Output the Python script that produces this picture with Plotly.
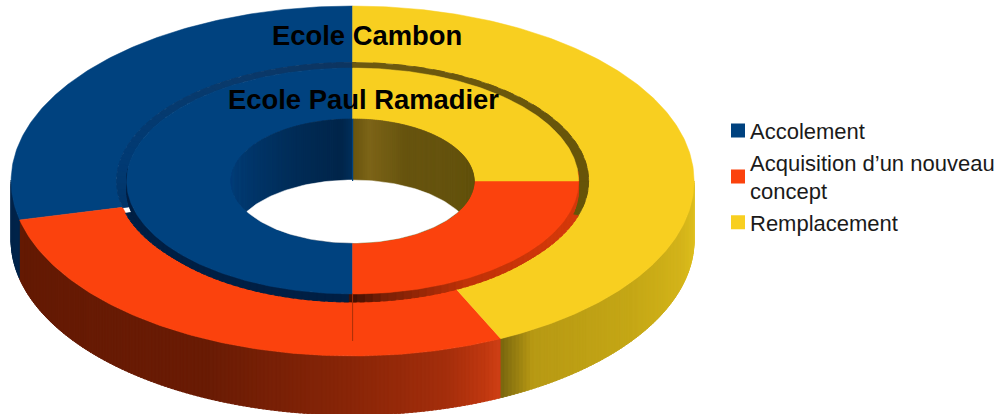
import numpy as np
import plotly.graph_objects as go

categories = ["Accolement", "Acquisition d’un nouveau<br>concept", "Remplacement"]
cambon_values = [2, 2, 3]
ramadier_values = [2, 1, 1]
colors = ["#00427f", "#fb420d", "#f8cf20"]
ring_titles = ["Ecole Cambon", "Ecole Paul Ramadier"]

CX, CY = 352.6, 181
OUT = (341.5, 175)
OUT_IN = (236, 118.5)
INN = (226, 113)
HOLE = (121.5, 62)
DEPTH = 59
INNER_DROP = 8


def hex2rgb(h):
    return np.array([int(h[i:i + 2], 16) for i in (1, 3, 5)], float)


def ramp(t, stops):
    ts = [s[0] for s in stops]
    cols = np.array([hex2rgb(s[1]) for s in stops])
    v = [np.interp(t, ts, cols[:, i]) for i in range(3)]
    return "rgb(%d,%d,%d)" % tuple(v)


def pt(r, t, dy=0.0):
    a = np.radians(t)
    return CX + r[0] * np.sin(a), CY - r[1] * np.cos(a) + dy


def arc(r, t0, t1, dy=0.0, n=None):
    n = n or max(6, int(abs(t1 - t0) * 1.5))
    return pt(r, np.linspace(t0, t1, n), dy)


fig = go.Figure()


def poly(x, y, color, width=0.8):
    x = list(x) + [x[0]]
    y = list(y) + [y[0]]
    fig.add_trace(go.Scatter(x=x, y=y, mode="lines", fill="toself", fillcolor=color,
                             line=dict(color=color, width=width),
                             showlegend=False, hoverinfo="skip"))


def band(r0, r1, t0, t1, c, dy0=0.0, dy1=0.0, width=0.5):
    x0, y0 = arc(r0, t0, t1, dy0)
    x1, y1 = arc(r1, t1, t0, dy1)
    poly(np.r_[x0, x1], np.r_[y0, y1], c, width)


def gradient_band(r0, r1, t0, t1, stops, dy0=0.0, dy1=0.0, step=2.0):
    ts = np.arange(t0, t1 + step * 0.5, step)
    for a, b in zip(ts[:-1], ts[1:]):
        band(r0, r1, a, b + step * 0.6, ramp((a + b) / 2, stops), dy0, dy1, 0.8)


def sector_angles(values):
    # clockwise from 12 o'clock: last category first
    total = sum(values)
    out = {}
    start = 0.0
    for i in reversed(range(len(values))):
        end = start + 360.0 * values[i] / total
        out[i] = (start, end)
        start = end
    return out


sec_out = sector_angles(cambon_values)
sec_in = sector_angles(ramadier_values)
ry_t, rr_t = sec_out[2][1], sec_out[1][1]

# Outer wall, front half
outer_wall = [(90, "#e2c322"), (102, "#d8b81c"), (125, "#c6a816"), (ry_t - 6, "#b89a14"),
              (ry_t - 1.5, "#8a7410"), (ry_t, "#7a660e"), (ry_t + 0.1, "#d04016"),
              (ry_t + 3, "#c03810"), (ry_t + 10, "#a42e0c"), (180, "#8a2608"), (205, "#6a1c05"),
              (rr_t, "#641a04"), (rr_t + 0.1, "#00244a"), (270, "#00244a")]
gradient_band(OUT, OUT, 90, 270, outer_wall, 0, DEPTH, 0.7)

# Outer ring face
for i in (0, 1, 2):
    band(OUT, OUT_IN, sec_out[i][0], sec_out[i][1], colors[i])

# Far wall of the outer ring's opening
far_left = [(-103, "#013468"), (-80, "#013b74"), (-30, "#0a3a6c"), (0, "#0d3560")]
gradient_band(OUT_IN, INN, -103, 0, far_left, step=3)
gradient_band(OUT_IN, INN, 0, 103, [(0, "#6e5a10"), (103, "#665408")], step=5)

# Inner ring's front wall
inner_wall = [(85, "#d83a0c"), (120, "#d2380a"), (150, "#c03208"), (172, "#7a2006"),
              (180, "#441003"), (180.1, "#001f44"), (275, "#001f44")]
gradient_band(OUT_IN, INN, 107, 253, inner_wall, step=2)
gradient_band(INN, INN, 85, 275, inner_wall, 0, INNER_DROP, 2)

# Inner ring face
for i in (0, 1, 2):
    band(INN, HOLE, sec_in[i][0], sec_in[i][1], colors[i])

# Hole wall
hole_stops = [(-90, "#013f7c"), (-60, "#01396e"), (-25, "#012c56"), (-5, "#01264b"), (-0.1, "#01305c"),
              (0, "#6a5510"), (8, "#7d6518"), (25, "#685510"), (90, "#62520c")]
ts = np.arange(-90, 90, 1.0)
for a in ts:
    xa, ya = pt(HOLE, a)
    xb, yb = pt(HOLE, min(a + 1.8, 90))
    poly([xa, xb, xb, xa], [ya, yb, 2 * CY - yb, 2 * CY - ya], ramp(a + 0.5, hole_stops), 0.4)

# See-through lens of the hole
DROP = 61
t_cross = np.degrees(np.arccos(DROP / (2 * HOLE[1])))
xu, yu = arc(HOLE, -t_cross, t_cross, DROP, 80)
xl, yl = arc(HOLE, 180 - t_cross, 180 + t_cross, 0, 80)
poly(np.r_[xu, xl], np.r_[yu, yl], "#ffffff", 0.5)

# Seam lines at 12 and 6 o'clock
fig.add_trace(go.Scatter(x=[CX, CX], y=[CY - HOLE[1], CY], mode="lines",
                         line=dict(color=colors[0], width=1.2), showlegend=False, hoverinfo="skip"))
fig.add_trace(go.Scatter(x=[CX, CX], y=[CY + INN[1], CY + INN[1] + 47], mode="lines",
                         line=dict(color="#a83008", width=1), showlegend=False, hoverinfo="skip"))

# Legend entries
for name, c in zip(categories, colors):
    fig.add_trace(go.Scatter(x=[None], y=[None], mode="markers", name=name,
                             marker=dict(symbol="square", size=14, color=c)))

fig.add_annotation(x=366.5, y=35, text="<b>%s</b>" % ring_titles[0], showarrow=False,
                   font=dict(family="Liberation Sans", size=27.4, color="#000000"))
fig.add_annotation(x=363, y=99, text="<b>%s</b>" % ring_titles[1], showarrow=False,
                   font=dict(family="Liberation Sans", size=27.4, color="#000000"))

fig.update_layout(
    width=1000, height=414, autosize=False,
    margin=dict(l=0, r=0, t=0, b=0),
    paper_bgcolor="white", plot_bgcolor="white",
    xaxis=dict(range=[0, 1000], visible=False, fixedrange=True),
    yaxis=dict(range=[414, 0], visible=False, fixedrange=True),
    font=dict(family="Liberation Sans", size=22, color="#1a1a1a"),
    legend=dict(x=0.71, y=0.735, xanchor="left", yanchor="top", itemwidth=30,
                bgcolor="rgba(0,0,0,0)", tracegroupgap=0,
                font=dict(family="Liberation Sans", size=22, color="#1a1a1a")),
    showlegend=True,
)
fig.write_html("out.html", config=dict(displayModeBar=False),
               post_script="document.body.style.margin='0';document.body.style.overflow='hidden';"
                           "document.querySelectorAll('.legendpoints').forEach(function(g){"
                           "g.setAttribute('transform','translate(8,0)');});")
